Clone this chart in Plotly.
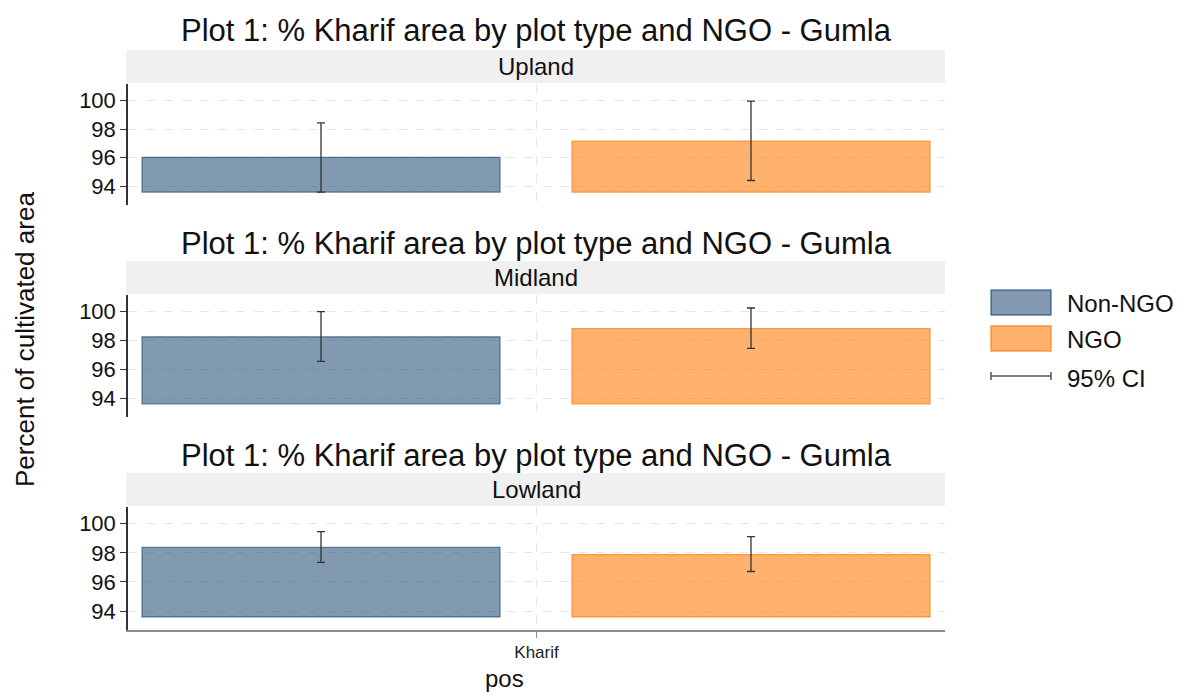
import plotly.graph_objects as go

# ---------------- data ----------------
panels = ["Upland", "Midland", "Lowland"]
groups = ["Non-NGO", "NGO"]
season = ["Kharif"]
title_text = "Plot 1: % Kharif area by plot type and NGO - Gumla"
bar_base = 93.6

nongo_mean = [96.03, 98.25, 98.37]
nongo_lo = [93.60, 96.55, 97.35]
nongo_hi = [98.43, 100.00, 99.46]

ngo_mean = [97.16, 98.83, 97.88]
ngo_lo = [94.41, 97.45, 96.72]
ngo_hi = [99.95, 100.25, 99.11]

y_ticks = [94, 96, 98, 100]
y_range = [92.7, 101.15]

# ---------------- layout helpers ----------------
# page body has an 8px margin, so the figure is offset by 8px
OFF = 8
W, H = 1183 - 2 * OFF, 700 - 2 * OFF
def px(x):
    return (x - OFF) / W
def py(y):
    return 1 - (y - OFF) / H

ax_left, ax_right = 128, 945
x_dom = [px(ax_left), px(ax_right)]
ax_w = ax_right - ax_left
ax_c = (ax_left + ax_right) / 2
panel_px = [(84, 205), (295, 417), (507, 630)]
strip_px = [(50, 83), (261, 294), (473, 506)]
title_y = [31, 243, 455]

# bar placement within the single category (in category units)
bar_w = 358 / ax_w
bar_off = [(142 - ax_c) / ax_w, (572 - ax_c) / ax_w]

col_fill = ["rgba(26,71,111,0.55)", "rgba(255,127,14,0.6)"]
col_line = ["rgba(26,71,111,0.65)", "rgba(255,127,14,0.75)"]
font = "Liberation Sans, Arial, Helvetica, sans-serif"

fig = go.Figure()
means = [nongo_mean, ngo_mean]
los = [nongo_lo, ngo_lo]
his = [nongo_hi, ngo_hi]

for p in range(3):
    xa = "x" if p == 0 else f"x{p+1}"
    ya = "y" if p == 0 else f"y{p+1}"
    for g in range(2):
        m = means[g][p]
        fig.add_trace(go.Bar(
            x=season, y=[m - bar_base], base=bar_base,
            name=groups[g], width=bar_w, offset=bar_off[g],
            marker=dict(color=col_fill[g], line=dict(color=col_line[g], width=1.2)),
            error_y=dict(type="data", symmetric=False,
                         array=[his[g][p] - m], arrayminus=[m - los[g][p]],
                         color="#333333", thickness=1.3, width=4),
            xaxis=xa, yaxis=ya, showlegend=False,
        ))

layout = dict(
    width=W, height=H, margin=dict(l=0, r=0, t=0, b=0),
    paper_bgcolor="white", plot_bgcolor="white",
    barmode="overlay",
    font=dict(family=font, color="#111111"),
    shapes=[], annotations=[],
)

for p in range(3):
    xk = "xaxis" if p == 0 else f"xaxis{p+1}"
    yk = "yaxis" if p == 0 else f"yaxis{p+1}"
    ya = "y" if p == 0 else f"y{p+1}"
    xa = "x" if p == 0 else f"x{p+1}"
    top, bot = panel_px[p]
    last = (p == 2)
    layout[xk] = dict(
        domain=x_dom, anchor=ya, type="category", range=[-0.5, 0.5],
        showgrid=True, gridcolor="#e6e6e6", griddash="dash", gridwidth=1,
        showline=last, linecolor="#8c8c8c", linewidth=1.5,
        ticks="outside" if last else "", ticklen=6, tickcolor="#8c8c8c",
        showticklabels=last, tickfont=dict(size=17, color="#222222"),
        zeroline=False, fixedrange=True,
    )
    layout[yk] = dict(
        domain=[py(bot), py(top)], anchor=xa,
        range=y_range, tickvals=y_ticks, ticktext=[str(t) for t in y_ticks],
        showgrid=True, gridcolor="#e6e6e6", griddash="dash", gridwidth=1,
        showline=True, linecolor="#333333", linewidth=1.5,
        ticks="outside", ticklen=6, tickcolor="#333333",
        tickfont=dict(size=22, color="#111111"),
        zeroline=False, fixedrange=True,
    )
    s0, s1 = strip_px[p]
    layout["shapes"].append(dict(
        type="rect", xref="paper", yref="paper",
        x0=px(126), x1=px(945), y0=py(s1), y1=py(s0),
        fillcolor="#f0f0f0", line=dict(width=0), layer="below"))
    layout["annotations"].append(dict(
        text=panels[p], xref="paper", yref="paper",
        x=px(536), y=py((s0 + s1) / 2), showarrow=False,
        xanchor="center", yanchor="middle", font=dict(size=24, color="#111111")))
    layout["annotations"].append(dict(
        text=title_text, xref="paper", yref="paper",
        x=px(536), y=py(title_y[p]), showarrow=False,
        xanchor="center", yanchor="middle", font=dict(size=31, color="#111111")))

# axis titles
layout["annotations"].append(dict(
    text="Percent of cultivated area", xref="paper", yref="paper",
    x=px(25), y=py(340), textangle=-90, showarrow=False,
    xanchor="center", yanchor="middle", font=dict(size=26, color="#111111")))
layout["annotations"].append(dict(
    text="pos", xref="paper", yref="paper",
    x=px(504), y=py(678), showarrow=False,
    xanchor="center", yanchor="middle", font=dict(size=24, color="#111111")))

# legend (drawn manually)
leg_x0, leg_x1 = 991, 1051
leg_items = [(290, 315), (326, 351)]
for g in range(2):
    a, b = leg_items[g]
    layout["shapes"].append(dict(
        type="rect", xref="paper", yref="paper",
        x0=px(leg_x0), x1=px(leg_x1), y0=py(b), y1=py(a),
        fillcolor=col_fill[g], line=dict(color=col_line[g], width=1.5)))
    layout["annotations"].append(dict(
        text=groups[g], xref="paper", yref="paper",
        x=px(1065), y=py((a + b) / 2 + 1), showarrow=False,
        xanchor="left", yanchor="middle", font=dict(size=24, color="#111111")))
ci_y = 376
layout["shapes"].append(dict(
    type="line", xref="paper", yref="paper",
    x0=px(leg_x0), x1=px(leg_x1), y0=py(ci_y), y1=py(ci_y),
    line=dict(color="#555555", width=1.5)))
for xx in (leg_x0, leg_x1):
    layout["shapes"].append(dict(
        type="line", xref="paper", yref="paper",
        x0=px(xx), x1=px(xx), y0=py(ci_y - 4), y1=py(ci_y + 4),
        line=dict(color="#555555", width=1.5)))
layout["annotations"].append(dict(
    text="95% CI", xref="paper", yref="paper",
    x=px(1065), y=py(ci_y + 2), showarrow=False,
    xanchor="left", yanchor="middle", font=dict(size=24, color="#111111")))

fig.update_layout(**layout)
fig.write_html("out.html")
